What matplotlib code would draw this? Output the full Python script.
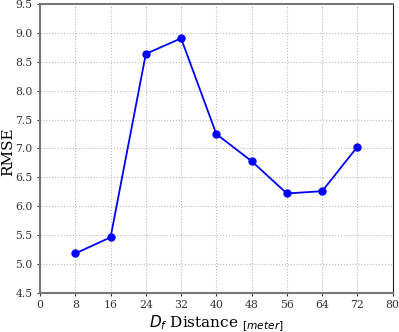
import matplotlib
matplotlib.use("Agg")
import matplotlib.pyplot as plt

# values
distance = [8, 16, 24, 32, 40, 48, 56, 64, 72]
rmse = [5.18, 5.46, 8.64, 8.91, 7.25, 6.78, 6.22, 6.26, 7.03]
x_ticks = list(range(0, 81, 8))
y_ticks = [4.5, 5.0, 5.5, 6.0, 6.5, 7.0, 7.5, 8.0, 8.5, 9.0, 9.5]

plt.rcParams["font.family"] = "DejaVu Serif"
plt.rcParams["mathtext.fontset"] = "dejavusans"

fig = plt.figure(figsize=(3.99, 3.32), dpi=100)
ax = fig.add_axes([0.1003, 0.1184, 0.8839, 0.8687])

ax.plot(distance, rmse, color="blue", linewidth=1.3, marker="o", markersize=5)

ax.set_xlim(0, 80)
ax.set_ylim(4.5, 9.5)
ax.set_xticks(x_ticks)
ax.set_yticks(y_ticks)
ax.set_yticklabels([f"{v:.1f}" for v in y_ticks])
ax.tick_params(labelsize=7.8, length=2, width=0.8, colors="#333333")
ax.grid(True, linestyle=":", color="#bbbbbb", linewidth=0.8)

ax.set_xlabel(r"$D_f$ Distance $_{[meter]}$", fontsize=11, labelpad=2)
ax.set_ylabel("RMSE", fontsize=11)
ax.yaxis.set_label_coords(-0.07, 0.49)

for side in ["left", "top", "bottom"]:
    ax.spines[side].set_color("#777777")
    ax.spines[side].set_linewidth(1.5)
ax.spines["right"].set_color("#222222")
ax.spines["right"].set_linewidth(0.8)

fig.savefig("out.png", dpi=100)
